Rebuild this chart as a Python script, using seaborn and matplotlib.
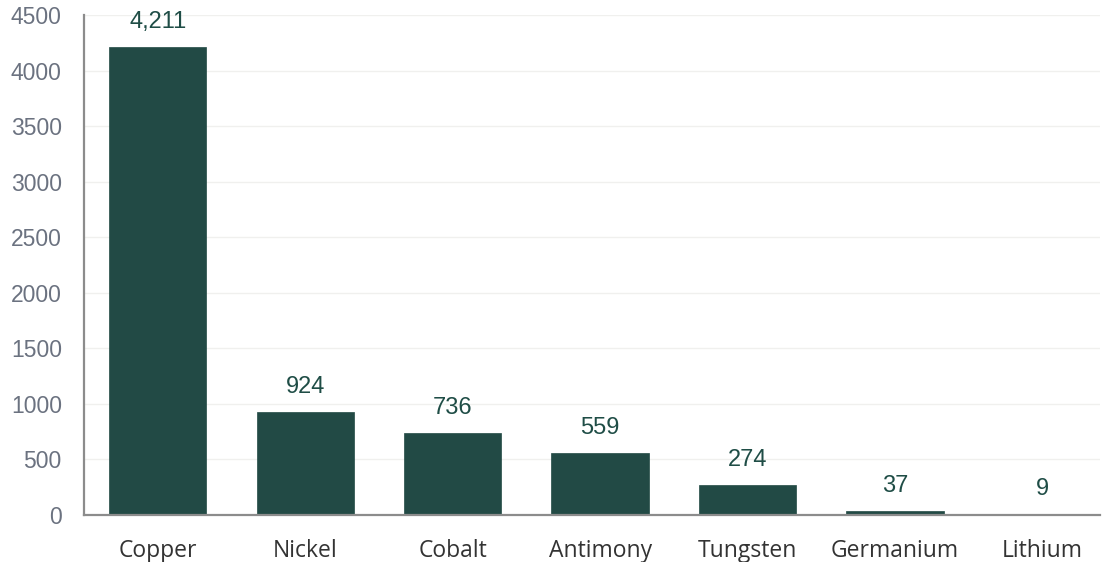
import matplotlib
matplotlib.use("Agg")
import matplotlib.pyplot as plt
import seaborn as sns
import pandas as pd

categories = ["Copper", "Nickel", "Cobalt", "Antimony", "Tungsten", "Germanium", "Lithium"]
values = [4211, 924, 736, 559, 274, 37, 9]
yticks = [0, 500, 1000, 1500, 2000, 2500, 3000, 3500, 4000, 4500]

df = pd.DataFrame({"mineral": categories, "value": values})

sns.set_theme(style="white")
plt.rcParams['font.family'] = ['Liberation Sans', 'DejaVu Sans']

fig = plt.figure(figsize=(11.07, 5.62), dpi=100)
ax = fig.add_axes([84/1107, 1-515/562, (1100-84)/1107, (515-15)/562])

bar_color = "#224a45"
sns.barplot(data=df, x="mineral", y="value", color=bar_color, width=0.66,
            saturation=1, ax=ax, edgecolor=bar_color, linewidth=0.5)

ax.set_xlim(-0.5, 6.39)
ax.set_ylim(0, 4500)
ax.set_yticks(yticks)
ax.set_yticklabels([str(t) for t in yticks], fontsize=16.5, color="#6b7280",
                   family="Liberation Sans")
ax.yaxis.grid(True, color="#f0f0ee", linewidth=1)
ax.set_axisbelow(True)
ax.set_xlabel("")
ax.set_ylabel("")

for s in ["top", "right"]:
    ax.spines[s].set_visible(False)
for s in ["left", "bottom"]:
    ax.spines[s].set_color("#8c8c8c")
    ax.spines[s].set_linewidth(1.6)

# x tick labels at category centers, tick marks at boundaries
ax.set_xticks(range(len(categories)))
ax.set_xticklabels(categories, fontsize=16.5, color="#333333", family="Open Sans")
ax.tick_params(axis="x", which="major", length=0, pad=17)
ax.set_xticks([i - 0.5 for i in range(len(categories))], minor=True)
ax.tick_params(axis="x", which="minor", length=7, width=1.6, color="#8c8c8c", direction="out")
ax.tick_params(axis="y", length=0, pad=16)

for i, v in enumerate(values):
    ax.annotate(f"{v:,}", xy=(i, v), xytext=(0, 10), textcoords="offset points",
                ha="center", va="bottom", fontsize=17, color="#1f4d46",
                family="Liberation Sans")

fig.savefig("out.png", dpi=100)
